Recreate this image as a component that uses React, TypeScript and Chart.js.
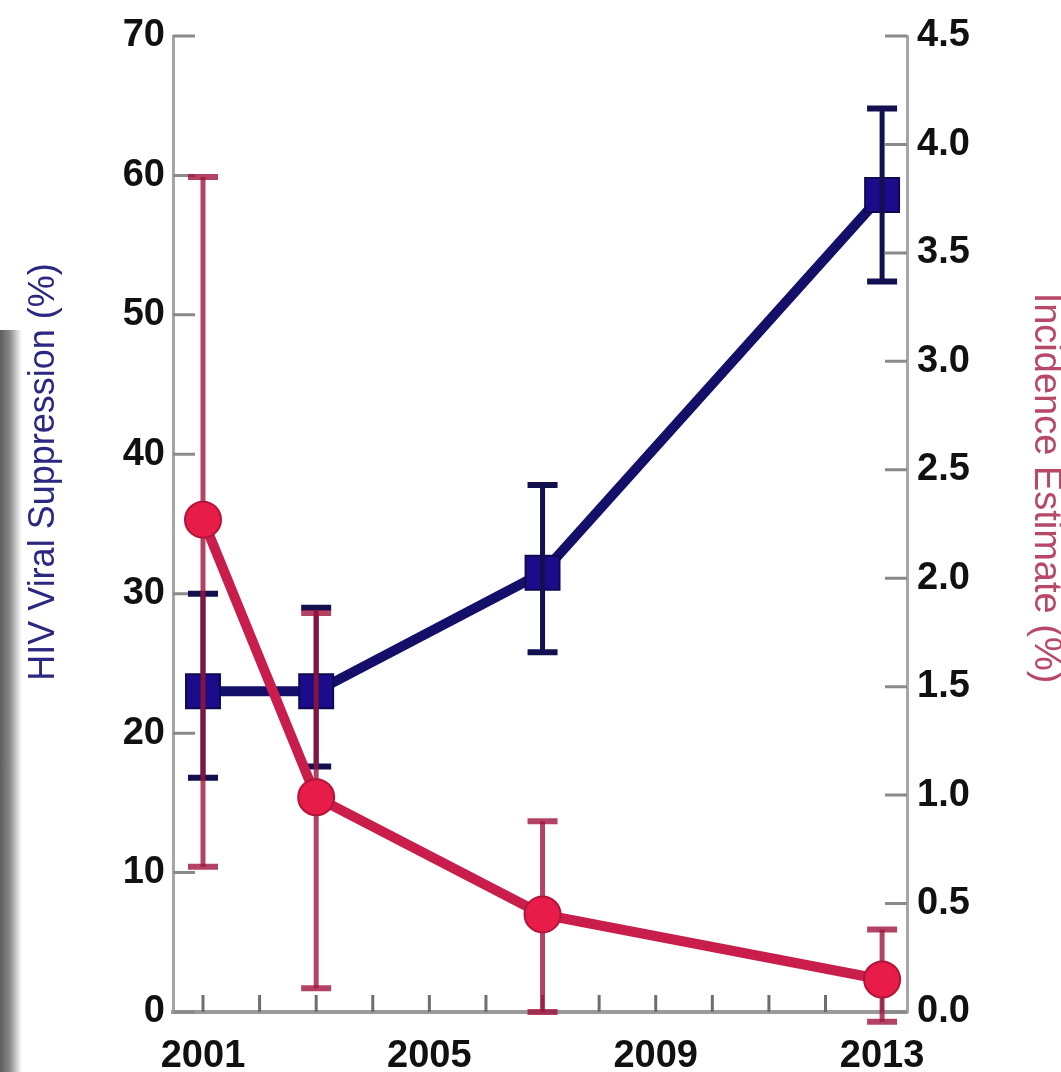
import React, { useEffect, useRef } from "react";
import { Chart, registerables } from "chart.js";

Chart.register(...registerables);

// ---- data ----
const YEARS = [2001, 2003, 2007, 2013];
const VIRAL_SUPPRESSION = [23, 23, 31.5, 58.6];
const VIRAL_LOW = [16.8, 17.6, 25.8, 52.4];
const VIRAL_HIGH = [30, 29, 37.8, 64.8];
const INCIDENCE = [2.27, 0.99, 0.45, 0.15];
const INCIDENCE_LOW = [0.67, 0.11, 0.0, -0.045];
const INCIDENCE_HIGH = [3.85, 1.84, 0.88, 0.38];

const X_LABEL_YEARS = [2001, 2005, 2009, 2013];
const MINOR_YEARS = [2001, 2002, 2003, 2004, 2005, 2006, 2007, 2008, 2009, 2010, 2011, 2012, 2013];
const LEFT_TICKS = [0, 10, 20, 30, 40, 50, 60, 70];
const RIGHT_TICKS = [0, 0.5, 1, 1.5, 2, 2.5, 3, 3.5, 4, 4.5];
const LEFT_TITLE = "HIV Viral Suppression (%)";
const RIGHT_TITLE = "Incidence Estimate (%)";

const FONT = '"Liberation Sans", Arial, sans-serif';

function drawErrorBars(chart: any, scaleId: string, lows: number[], highs: number[], color: string, width: number, capW: number, capH: number) {
  const ctx = chart.ctx;
  const xs = chart.scales.x;
  const ys = chart.scales[scaleId];
  ctx.save();
  ctx.strokeStyle = color;
  ctx.lineCap = "butt";
  YEARS.forEach((yr, i) => {
    const x = xs.getPixelForValue(yr);
    const yLo = ys.getPixelForValue(lows[i]);
    const yHi = ys.getPixelForValue(highs[i]);
    ctx.lineWidth = width;
    ctx.beginPath();
    ctx.moveTo(x, yLo);
    ctx.lineTo(x, yHi);
    ctx.stroke();
    ctx.lineWidth = capH;
    ctx.beginPath();
    ctx.moveTo(x - capW / 2, yLo);
    ctx.lineTo(x + capW / 2, yLo);
    ctx.moveTo(x - capW / 2, yHi);
    ctx.lineTo(x + capW / 2, yHi);
    ctx.stroke();
  });
  ctx.restore();
}

export default function App() {
  const ref = useRef<HTMLCanvasElement>(null);

  useEffect(() => {
    document.body.style.margin = "0";
    const canvas = ref.current;
    if (!canvas) return;

    const errorBarPlugin = {
      id: "errorBars",
      beforeDatasetDraw(chart: any, args: any) {
        if (args.index === 0) {
          drawErrorBars(chart, "y2", INCIDENCE_LOW, INCIDENCE_HIGH, "rgba(160,20,62,0.8)", 5, 30, 6);
        }
      },
      afterDatasetDraw(chart: any, args: any) {
        if (args.index === 1) {
          drawErrorBars(chart, "y", VIRAL_LOW, VIRAL_HIGH, "#12104e", 5, 30, 6);
        }
      },
    };

    const innerTicksPlugin = {
      id: "innerTicks",
      beforeDatasetsDraw(chart: any) {
        const ctx = chart.ctx;
        const { left, right, bottom } = chart.chartArea;
        ctx.save();
        ctx.strokeStyle = "#8a8a8a";
        ctx.lineWidth = 3;
        ctx.beginPath();
        LEFT_TICKS.forEach((v) => {
          const y = chart.scales.y.getPixelForValue(v);
          ctx.moveTo(left, y);
          ctx.lineTo(left + 22, y);
        });
        RIGHT_TICKS.forEach((v) => {
          const y = chart.scales.y2.getPixelForValue(v);
          ctx.moveTo(right, y);
          ctx.lineTo(right - 22, y);
        });
        ctx.stroke();
        ctx.strokeStyle = "#6e6e6e";
        ctx.beginPath();
        MINOR_YEARS.forEach((yr) => {
          const x = chart.scales.x.getPixelForValue(yr);
          ctx.moveTo(x, bottom);
          ctx.lineTo(x, bottom - 17);
        });
        ctx.stroke();
        ctx.restore();
      },
    };

    const titlesPlugin = {
      id: "sideTitles",
      afterDraw(chart: any) {
        const ctx = chart.ctx;
        ctx.save();
        ctx.font = `36px ${FONT}`;
        ctx.textAlign = "center";
        ctx.textBaseline = "middle";
        ctx.fillStyle = "#2a2880";
        ctx.translate(44, 472);
        ctx.rotate(-Math.PI / 2);
        ctx.fillText(LEFT_TITLE, 0, 0);
        ctx.restore();
        ctx.save();
        ctx.font = `38px ${FONT}`;
        ctx.textAlign = "center";
        ctx.textBaseline = "middle";
        ctx.fillStyle = "#b84868";
        ctx.translate(1045, 488);
        ctx.rotate(Math.PI / 2);
        ctx.fillText(RIGHT_TITLE, 0, 0);
        ctx.restore();
      },
    };

    const tickFont = { family: FONT, size: 38, weight: "bold" as const };

    const chart = new Chart(canvas, {
      type: "line",
      data: {
        datasets: [
          {
            label: RIGHT_TITLE,
            data: YEARS.map((yr, i) => ({ x: yr, y: INCIDENCE[i] })),
            yAxisID: "y2",
            borderColor: "#c91d4b",
            borderWidth: 10,
            pointStyle: "circle",
            pointRadius: 18,
            pointBackgroundColor: "#e71c48",
            pointBorderColor: "#b3143a",
            pointBorderWidth: 2,
            tension: 0,
            clip: false as any,
          },
          {
            label: LEFT_TITLE,
            data: YEARS.map((yr, i) => ({ x: yr, y: VIRAL_SUPPRESSION[i] })),
            yAxisID: "y",
            borderColor: "#14106a",
            borderWidth: 10,
            pointStyle: "rect",
            pointRadius: 24,
            pointBackgroundColor: "#1c0c8c",
            pointBorderColor: "#0e0a52",
            pointBorderWidth: 2,
            tension: 0,
            clip: false as any,
          },
        ],
      },
      options: {
        responsive: false,
        animation: false,
        devicePixelRatio: 1,
        layout: { padding: { top: 36, left: 0, right: 0, bottom: 0 } },
        plugins: { legend: { display: false }, tooltip: { enabled: false } },
        scales: {
          x: {
            type: "linear",
            position: "bottom",
            min: 2000.47,
            max: 2013.44,
            grid: { display: false, drawTicks: false },
            border: { display: true, color: "#9a9a9a", width: 4 },
            afterBuildTicks: (scale: any) => {
              scale.ticks = X_LABEL_YEARS.map((v) => ({ value: v }));
            },
            afterFit: (scale: any) => {
              scale.height = 60;
            },
            ticks: {
              font: tickFont,
              color: "#111111",
              padding: 22,
              maxRotation: 0,
              autoSkip: false,
              callback: (v: any) => String(v),
            },
          },
          y: {
            type: "linear",
            position: "left",
            min: 0,
            max: 70,
            grid: { display: false, drawTicks: false },
            border: { display: true, color: "#a6a6a6", width: 3 },
            afterBuildTicks: (scale: any) => {
              scale.ticks = LEFT_TICKS.map((v) => ({ value: v }));
            },
            afterFit: (scale: any) => {
              scale.width = 173;
            },
            ticks: {
              font: tickFont,
              color: "#111111",
              padding: 8,
              autoSkip: false,
              callback: (v: any) => String(v),
            },
          },
          y2: {
            type: "linear",
            position: "right",
            min: 0,
            max: 4.5,
            grid: { display: false, drawTicks: false },
            border: { display: true, color: "#a6a6a6", width: 3 },
            afterBuildTicks: (scale: any) => {
              scale.ticks = RIGHT_TICKS.map((v) => ({ value: v }));
            },
            afterFit: (scale: any) => {
              scale.width = 154;
            },
            ticks: {
              font: tickFont,
              color: "#111111",
              padding: 10,
              autoSkip: false,
              callback: (v: any) => Number(v).toFixed(1),
            },
          },
        },
      },
      plugins: [innerTicksPlugin, errorBarPlugin, titlesPlugin],
    });

    return () => chart.destroy();
  }, []);

  return (
    <div style={{ position: "fixed", left: 0, top: 0, width: 1061, height: 1072, background: "#ffffff", overflow: "hidden" }}>
      <div
        style={{
          position: "absolute",
          left: 0,
          top: 330,
          width: 22,
          height: 742,
          background: "linear-gradient(to right, #5e5e5e, #8a8a8a 45%, #d8d8d8 80%, #ffffff)",
        }}
      />
      <canvas ref={ref} width={1061} height={1072} style={{ position: "absolute", left: 0, top: 0 }} />
    </div>
  );
}
